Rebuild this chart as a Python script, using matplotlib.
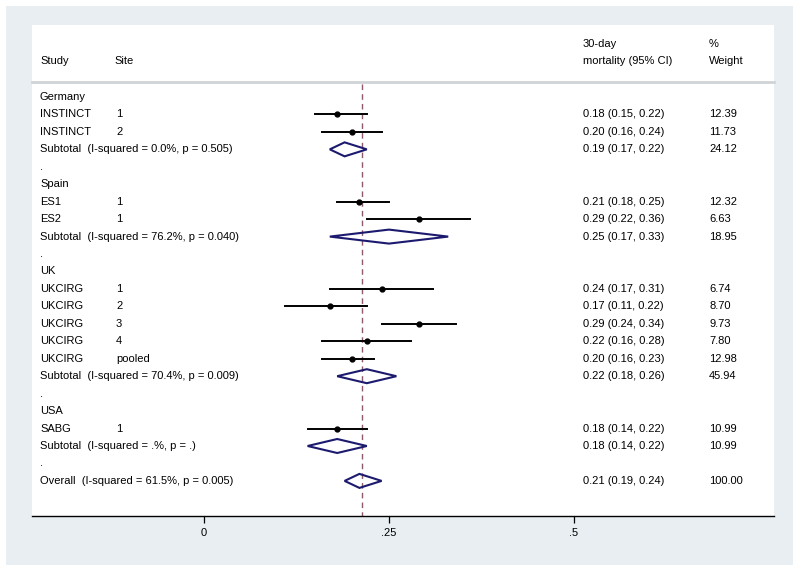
import matplotlib
matplotlib.use("Agg")
import matplotlib.pyplot as plt
from matplotlib.patches import Polygon, Rectangle
import matplotlib.transforms as mtransforms

plt.rcParams['font.family'] = ['Liberation Sans', 'DejaVu Sans']

# ---- data ----
row_kind = ["group", "study", "study", "sub", "dot",
            "group", "study", "study", "sub", "dot",
            "group", "study", "study", "study", "study", "study", "sub", "dot",
            "group", "study", "sub", "dot",
            "overall"]
row_label = ["Germany", "INSTINCT", "INSTINCT",
             "Subtotal  (I-squared = 0.0%, p = 0.505)", ".",
             "Spain", "ES1", "ES2",
             "Subtotal  (I-squared = 76.2%, p = 0.040)", ".",
             "UK", "UKCIRG", "UKCIRG", "UKCIRG", "UKCIRG", "UKCIRG",
             "Subtotal  (I-squared = 70.4%, p = 0.009)", ".",
             "USA", "SABG",
             "Subtotal  (I-squared = .%, p = .)", ".",
             "Overall  (I-squared = 61.5%, p = 0.005)"]
row_site = ["", "1", "2", "", "", "", "1", "1", "", "", "",
            "1", "2", "3", "4", "pooled", "", "", "", "1", "", "", ""]
est = [None, 0.18, 0.20, 0.19, None, None, 0.21, 0.29, 0.25, None, None,
       0.24, 0.17, 0.29, 0.22, 0.20, 0.22, None, None, 0.18, 0.18, None, 0.21]
lo = [None, 0.15, 0.16, 0.17, None, None, 0.18, 0.22, 0.17, None, None,
      0.17, 0.11, 0.24, 0.16, 0.16, 0.18, None, None, 0.14, 0.14, None, 0.19]
hi = [None, 0.22, 0.24, 0.22, None, None, 0.25, 0.36, 0.33, None, None,
      0.31, 0.22, 0.34, 0.28, 0.23, 0.26, None, None, 0.22, 0.22, None, 0.24]
weight = ["", "12.39", "11.73", "24.12", "", "", "12.32", "6.63", "18.95", "", "",
          "6.74", "8.70", "9.73", "7.80", "12.98", "45.94", "", "", "10.99", "10.99", "", "100.00"]
overall_est = 0.2135
xticks = [0, 0.25, 0.5]
xticklabels = ["0", ".25", ".5"]

# ---- figure ----
W, H = 800, 571
fig = plt.figure(figsize=(8.0, 5.71), dpi=100)
fig.patch.set_facecolor("white")
bgc = "#e8eef1"
fig.patches.append(Rectangle((6 / W, 1 - 565 / H), (793 - 6) / W, (565 - 6) / H,
                             transform=fig.transFigure, facecolor=bgc,
                             edgecolor="none", zorder=-10))

left, right, top, bottom = 32, 774, 25, 516
ax = fig.add_axes([left / W, 1 - bottom / H, (right - left) / W, (bottom - top) / H])
ax.set_zorder(5)
ax.set_facecolor("white")
x0 = 204; xscale = 740.0
ax.set_xlim((left - x0) / xscale, (right - x0) / xscale)
y_first = 97; dy = 17.45
ax.set_ylim((bottom - y_first) / dy, (top - y_first) / dy)
for s in ["left", "right", "top"]:
    ax.spines[s].set_visible(False)
ax.spines["bottom"].set_linewidth(1.0)
ax.set_yticks([])
ax.set_xticks(xticks)
fs = 8
ax.set_xticklabels(xticklabels, fontsize=fs)
ax.tick_params(axis="x", length=5, width=0.9, pad=4)

tr = mtransforms.blended_transform_factory(fig.transFigure, ax.transData)

def fx(px):
    return px / W

# header
yh2 = (61 - y_first) / dy
yh1 = (44 - y_first) / dy
ax.text(fx(40), yh2, "Study", transform=tr, fontsize=fs, va="center")
ax.text(fx(114), yh2, "Site", transform=tr, fontsize=fs, va="center")
ax.text(fx(583), yh1, "30-day", transform=tr, fontsize=fs, va="center")
ax.text(fx(583), yh2, "mortality (95% CI)", transform=tr, fontsize=fs, va="center")
ax.text(fx(709), yh1, "%", transform=tr, fontsize=fs, va="center")
ax.text(fx(709), yh2, "Weight", transform=tr, fontsize=fs, va="center")
ysep = (82.5 - y_first) / dy
ax.plot([0, 1], [ysep, ysep], transform=mtransforms.blended_transform_factory(ax.transAxes, ax.transData),
        color="#d0d4d6", lw=2.0, clip_on=False)

# reference dashed line
ax.plot([overall_est, overall_est], [(84 - y_first) / dy, (bottom - y_first) / dy],
        color="#8c5a6a", lw=1.0, ls=(0, (4, 3)), zorder=1)

navy = "#1c1a6e"
for i, kind in enumerate(row_kind):
    y = i
    ax.text(fx(40), y, row_label[i], transform=tr, fontsize=fs, va="center")
    if row_site[i]:
        ax.text(fx(116), y, row_site[i], transform=tr, fontsize=fs, va="center")
    if est[i] is not None:
        ax.text(fx(583), y, f"{est[i]:.2f} ({lo[i]:.2f}, {hi[i]:.2f})", transform=tr,
                fontsize=fs, va="center")
        ax.text(fx(709), y, weight[i], transform=tr, fontsize=fs, va="center")
        if kind == "study":
            ax.plot([lo[i], hi[i]], [y, y], color="black", lw=1.4, zorder=3)
            ax.plot([est[i]], [y], "o", color="black", ms=3.5, zorder=4)
        else:
            h = 7.0 / dy
            poly = Polygon([(lo[i], y), (est[i], y - h), (hi[i], y), (est[i], y + h)],
                           closed=True, facecolor="none", edgecolor=navy, lw=1.5, zorder=3)
            ax.add_patch(poly)

fig.savefig("out.png", dpi=100, facecolor="white")
